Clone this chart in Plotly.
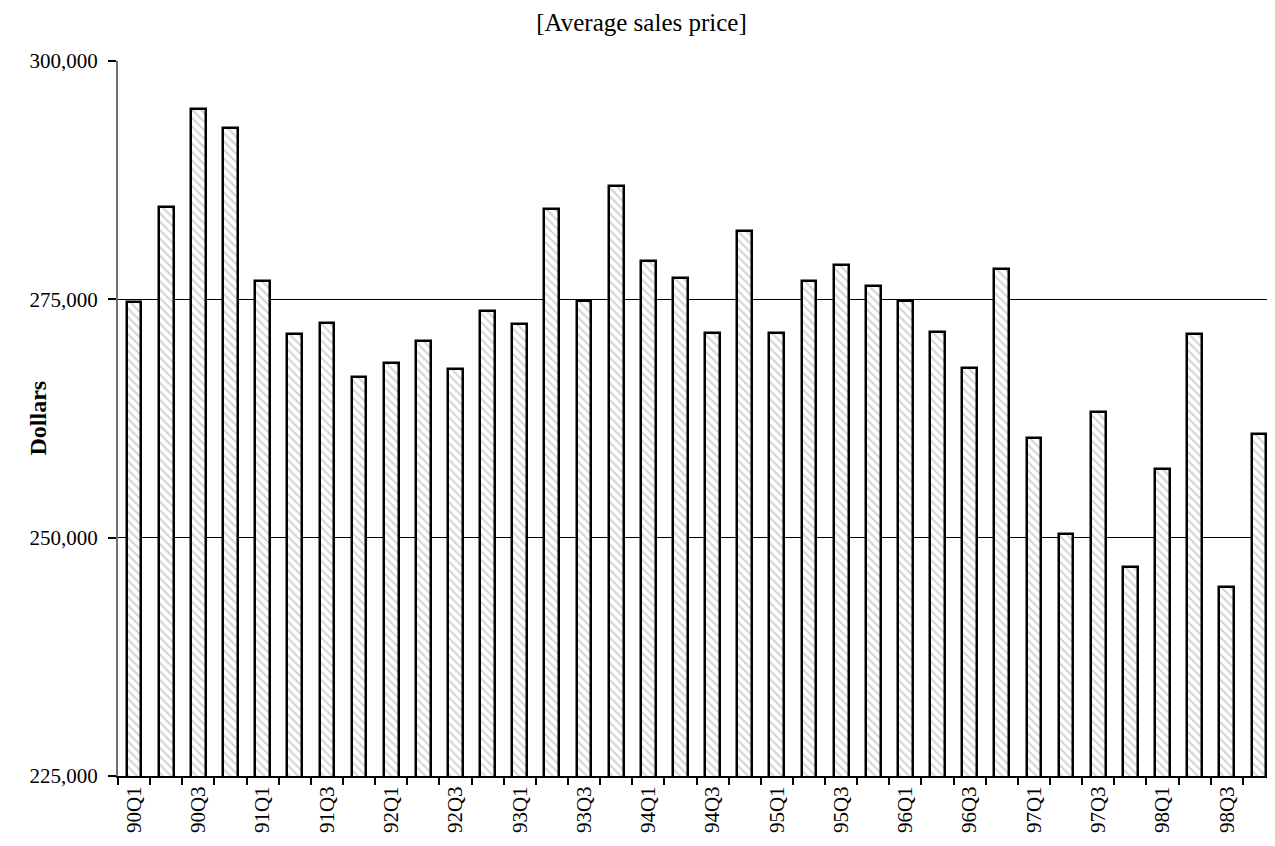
import plotly.graph_objects as go

quarters = [f"{y}Q{q}" for y in range(90, 99) for q in range(1, 5)]
prices = [
    274700, 284700, 295000, 293000,   # 1990
    276900, 271400, 272500, 266900,   # 1991
    268300, 270600, 267700, 273800,   # 1992
    272400, 284500, 274800, 286900,   # 1993
    279000, 277200, 271500, 282200,   # 1994
    271500, 276900, 278600, 276400,   # 1995
    274800, 271600, 267800, 278200,   # 1996
    260500, 250400, 263200, 246900,   # 1997
    257200, 271400, 244800, 260900,   # 1998
]
y_ticks = [225000, 250000, 275000, 300000]

idx = list(range(len(quarters)))
FONT = "Liberation Serif, Times New Roman, serif"

fig = go.Figure()
fig.add_trace(go.Bar(
    x=idx, y=prices, width=0.46,
    marker=dict(
        color="white",
        line=dict(color="black", width=2.5),
        pattern=dict(shape="\\", fgcolor="#a8a8a8", bgcolor="white", size=6, solidity=0.35),
    ),
    hovertext=quarters, showlegend=False,
))

fig.update_layout(
    width=1267, height=838,
    margin=dict(l=110, r=0, t=53, b=70),
    paper_bgcolor="white", plot_bgcolor="white",
    font=dict(family=FONT, size=20, color="black"),
    title=dict(text="[Average sales price]", x=0.5, xanchor="center",
               yref="container", y=0.993, yanchor="top",
               font=dict(family=FONT, size=25, color="black")),
    bargap=0,
    xaxis=dict(
        range=[-0.5, len(quarters) - 0.5],
        tickmode="array", tickvals=idx[::2], ticktext=quarters[::2],
        tickangle=-90, ticks="", showgrid=False, zeroline=False,
        showline=True, linecolor="black", linewidth=2, automargin=False,
        tickfont=dict(family=FONT, size=21),
        minor=dict(ticks="outside", tick0=-0.5, dtick=1, ticklen=7, tickcolor="black", tickwidth=1.5, showgrid=False),
    ),
    xaxis2=dict(
        overlaying="x", side="top", range=[-0.5, len(quarters) - 0.5],
        showline=True, linecolor="#808080", linewidth=2,
        showticklabels=False, ticks="", showgrid=False, zeroline=False,
    ),
    yaxis=dict(
        range=[y_ticks[0], y_ticks[-1]],
        tickmode="array", tickvals=y_ticks, tickformat=",",
        ticks="outside", ticklen=8, tickcolor="black", tickwidth=1.5,
        ticklabelstandoff=6, automargin=False,
        showgrid=True, gridcolor="black", gridwidth=1,
        zeroline=False, showline=True, linecolor="#707070", linewidth=2,
        tickfont=dict(family=FONT, size=21),
    ),
    annotations=[dict(
        text="<b>Dollars</b>", textangle=-90, showarrow=False,
        xref="paper", yref="paper", x=0, y=0.5, xanchor="center", yanchor="middle",
        xshift=-81, font=dict(family=FONT, size=24, color="black"),
    )],
)

fig.write_html("out.html")
